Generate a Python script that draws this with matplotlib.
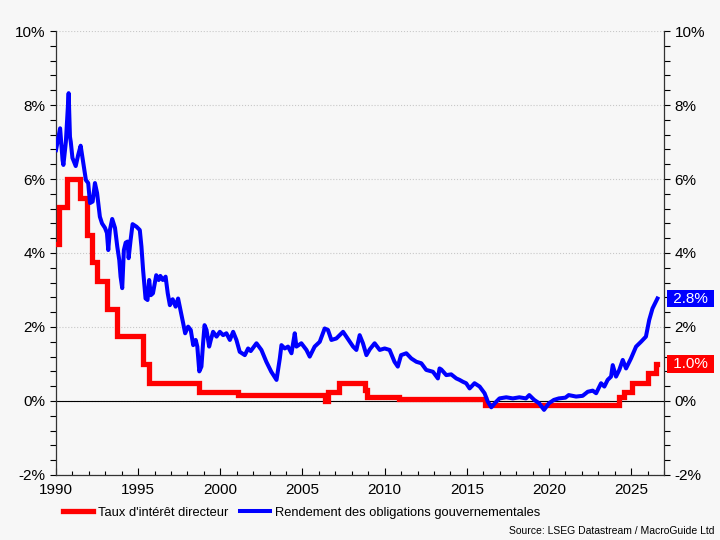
#!/usr/bin/env python
"""Japan: policy rate vs government bond yield, 1990-2026."""

import matplotlib
matplotlib.use("Agg")
import matplotlib.pyplot as plt
from matplotlib.ticker import MultipleLocator, FuncFormatter
from matplotlib.transforms import blended_transform_factory

plt.rcParams["font.family"] = ["Liberation Sans", "DejaVu Sans"]

# policy rate, step changes (decimal year, %)
rate_years = [1990.0, 1990.2, 1990.65, 1991.46, 1991.9, 1992.17, 1992.5,
              1993.08, 1993.7, 1995.27, 1995.67, 1998.72, 2001.08, 2006.35,
              2006.55, 2007.2, 2008.8, 2008.95, 2010.85, 2016.1, 2024.25,
              2024.55, 2025.07, 2026.0, 2026.5, 2026.6]
rate_values = [4.25, 5.25, 6.0, 5.5, 4.5, 3.75, 3.25,
               2.5, 1.75, 1.0, 0.5, 0.25, 0.15, 0.0,
               0.25, 0.5, 0.3, 0.1, 0.05, -0.1, 0.1,
               0.25, 0.5, 0.75, 1.0, 1.0]

# 10y government bond yield (decimal year, %)
bond_years = [1990.0, 1990.25, 1990.4, 1990.45, 1990.6, 1990.77, 1990.85,
              1990.9, 1991.0, 1991.2, 1991.35, 1991.5, 1991.66, 1991.82,
              1991.96, 1992.07, 1992.23, 1992.37, 1992.5, 1992.67, 1992.8,
              1992.98, 1993.1, 1993.18, 1993.28, 1993.42, 1993.59, 1993.73,
              1993.85, 1993.93, 1994.03, 1994.13, 1994.24, 1994.36, 1994.42,
              1994.54, 1994.66, 1994.9, 1995.1, 1995.2, 1995.3, 1995.45,
              1995.57, 1995.67, 1995.77, 1995.9, 1996.1, 1996.25, 1996.35,
              1996.5, 1996.67, 1996.8, 1996.93, 1997.1, 1997.28, 1997.43,
              1997.6, 1997.74, 1997.86, 1998.04, 1998.2, 1998.35, 1998.5,
              1998.6, 1998.72, 1998.85, 1998.95, 1999.04, 1999.16, 1999.32,
              1999.42, 1999.56, 1999.77, 1999.97, 2000.17, 2000.37, 2000.58,
              2000.78, 2000.98, 2001.18, 2001.49, 2001.69, 2001.85, 2002.2,
              2002.5, 2002.8, 2003.1, 2003.42, 2003.62, 2003.72, 2003.92,
              2004.12, 2004.33, 2004.53, 2004.63, 2004.93, 2005.24, 2005.44,
              2005.74, 2006.05, 2006.35, 2006.55, 2006.76, 2007.06, 2007.47,
              2007.67, 2008.08, 2008.28, 2008.48, 2008.68, 2008.89, 2009.1,
              2009.39, 2009.7, 2010.0, 2010.3, 2010.6, 2010.8, 2011.0,
              2011.32, 2011.62, 2011.93, 2012.23, 2012.53, 2012.94, 2013.24,
              2013.34, 2013.45, 2013.75, 2014.05, 2014.36, 2014.56, 2014.76,
              2014.96, 2015.17, 2015.47, 2015.78, 2016.08, 2016.28, 2016.49,
              2016.79, 2016.99, 2017.4, 2017.8, 2018.2, 2018.6, 2018.8,
              2019.1, 2019.4, 2019.7, 2020.0, 2020.3, 2020.6, 2021.0,
              2021.2, 2021.65, 2022.05, 2022.36, 2022.66, 2022.87, 2023.17,
              2023.37, 2023.57, 2023.78, 2023.88, 2024.08, 2024.28, 2024.49,
              2024.69, 2024.99, 2025.3, 2025.6, 2025.9, 2026.1, 2026.3,
              2026.6]
bond_yield = [6.78, 7.37, 6.51, 6.38, 7.0, 8.32, 7.14,
              7.0, 6.57, 6.35, 6.65, 6.9, 6.43, 5.97,
              5.89, 5.35, 5.39, 5.89, 5.62, 4.98, 4.8,
              4.68, 4.54, 4.08, 4.62, 4.92, 4.68, 4.17,
              3.81, 3.36, 3.05, 4.08, 4.28, 4.31, 3.86,
              4.35, 4.78, 4.71, 4.62, 4.17, 3.54, 2.77,
              2.73, 3.27, 2.86, 2.91, 3.4, 3.27, 3.38,
              3.27, 3.36, 2.91, 2.59, 2.75, 2.55, 2.77,
              2.41, 2.1, 1.83, 2.01, 1.92, 1.51, 1.65,
              1.47, 0.8, 0.93, 1.56, 2.05, 1.92, 1.47,
              1.65, 1.87, 1.74, 1.87, 1.78, 1.83, 1.65,
              1.87, 1.65, 1.33, 1.24, 1.42, 1.35, 1.56,
              1.38, 1.06, 0.79, 0.57, 1.15, 1.51, 1.42,
              1.47, 1.29, 1.83, 1.47, 1.56, 1.38, 1.2,
              1.47, 1.6, 1.96, 1.92, 1.65, 1.69, 1.87,
              1.74, 1.47, 1.38, 1.78, 1.56, 1.24, 1.4,
              1.56, 1.38, 1.42, 1.38, 1.06, 0.93, 1.24,
              1.29, 1.15, 1.06, 1.02, 0.84, 0.79, 0.61,
              0.88, 0.85, 0.7, 0.72, 0.61, 0.57, 0.52,
              0.48, 0.34, 0.48, 0.39, 0.21, -0.02, -0.17,
              -0.02, 0.07, 0.1, 0.07, 0.1, 0.07, 0.16,
              0.03, -0.06, -0.24, -0.06, 0.03, 0.07, 0.09,
              0.16, 0.12, 0.14, 0.25, 0.28, 0.21, 0.48,
              0.39, 0.57, 0.66, 0.97, 0.66, 0.84, 1.11,
              0.88, 1.15, 1.47, 1.6, 1.74, 2.19, 2.5,
              2.77]

y_ticks = [-2, 0, 2, 4, 6, 8, 10]
x_ticks = [1990, 1995, 2000, 2005, 2010, 2015, 2020, 2025]

RED = "#ff0000"
BLUE = "#0000ff"
BG = "#f7f7f7"


def plot_rates():
    figure = plt.figure(figsize=(7.2, 5.4), dpi=100, facecolor=BG)
    axis = figure.add_axes([56 / 720, 65 / 540, 608 / 720, 444 / 540])
    axis.set_facecolor(BG)

    axis.step(rate_years, rate_values, where="post", color=RED, lw=3.8,
              solid_joinstyle="miter", label="Taux d'intérêt directeur", zorder=3)
    axis.plot(bond_years, bond_yield, color=BLUE, lw=2.9,
              label="Rendement des obligations gouvernementales", zorder=4)
    axis.axhline(0, color="black", lw=0.8, zorder=2)

    axis.set_xlim(1990, 2027)
    axis.set_ylim(-2, 10)
    axis.set_xticks(x_ticks)
    axis.xaxis.set_minor_locator(MultipleLocator(1))
    axis.set_yticks(y_ticks)
    axis.yaxis.set_minor_locator(MultipleLocator(0.4))
    pct = FuncFormatter(lambda v, _: f"{v:.0f}%")
    axis.yaxis.set_major_formatter(pct)

    axis.tick_params(axis="x", direction="in", length=5, width=0.8,
                     labelsize=11, pad=6)
    axis.tick_params(axis="x", which="minor", direction="in", length=3,
                     width=0.8)
    axis.tick_params(axis="y", which="both", direction="out", length=4,
                     width=0.8, labelsize=11, left=True, right=True,
                     labelright=True, labelleft=True)
    axis.spines["top"].set_visible(False)
    for side in ["left", "right", "bottom"]:
        axis.spines[side].set_color("#333333")
        axis.spines[side].set_linewidth(0.9)

    axis.grid(axis="y", which="major", color="#c8c8c8", ls=":", lw=0.8)

    # end-value labels on right side
    trans = blended_transform_factory(axis.transAxes, axis.transData)
    for value, color in [(bond_yield[-1], BLUE), (rate_values[-1], RED)]:
        axis.text(1.008, value, f" {value:.1f}% ", transform=trans,
                  ha="left", va="center", color="white", fontsize=11,
                  bbox=dict(boxstyle="square,pad=0.12", fc=color, ec="none"),
                  zorder=5, clip_on=False)

    figure.legend(loc="lower left", bbox_to_anchor=(0.072, 0.018), ncol=2,
                  frameon=False, fontsize=9.3, handlelength=2.3,
                  handletextpad=0.4, columnspacing=0.9)
    figure.text(0.993, 0.008, "Source: LSEG Datastream / MacroGuide Ltd",
                ha="right", va="bottom", fontsize=7.5)

    figure.savefig("out.png", dpi=100, facecolor=BG)


if __name__ == "__main__":
    plot_rates()
